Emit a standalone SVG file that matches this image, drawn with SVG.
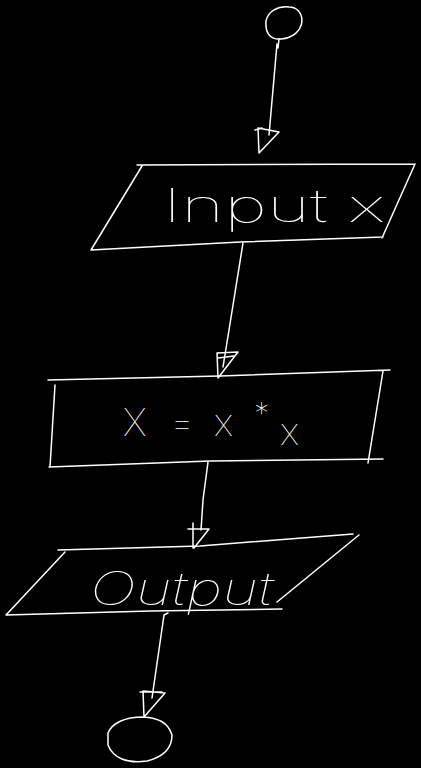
<svg xmlns="http://www.w3.org/2000/svg" width="421" height="768" viewBox="0 0 421 768">
<style>
.s{fill:none;stroke:#fff;stroke-width:1.5;stroke-linecap:round;stroke-linejoin:round}
.t{fill:#fff;font-family:Inter,"Liberation Sans",sans-serif;font-weight:100}
</style>
<rect width="421" height="768" fill="#000"/>
<g id="start">
<path class="s" d="M266,21 C268,11 278,6 289,7 C297,7 302,13 302,21 C301,31 293,38 281,39 C271,40 265,34 266,21 Z"/>
</g>
<g id="input">
<path class="s" d="M137,165 L415,164 M415,164 L382,238 M91,250 L240,242 L383,237 M91,250 L142,166"/>
<text class="t" x="163" y="222" font-size="46" textLength="222" lengthAdjust="spacingAndGlyphs">Input x</text>
</g>
<g id="process">
<path class="s" d="M48,380 L220,376 L390,370 M55,385 L50,467 M49,467 L210,461 L383,459 M383,371 L368,463"/>
<text class="t" x="123" y="436" font-size="38">X <tspan x="170">=</tspan><tspan x="214">x</tspan><tspan x="254" dy="-12" font-size="30">*</tspan><tspan x="280" dy="21">x</tspan></text>
</g>
<g id="output">
<path class="s" d="M58,550 L200,546 L353,534 M359,535 L277,602 M6,615 L150,611 L282,609 M6,615 L65,552"/>
<text class="t" x="90" y="605" font-size="46" font-style="italic" textLength="183" lengthAdjust="spacingAndGlyphs">Output</text>
</g>
<g id="end">
<path class="s" d="M108,733 C112,723 125,717 143,717 C158,718 168,722 172,735 C172,748 163,757 147,761 C127,764 113,758 108,745 Z"/>
</g>
<g id="connectors">
<path class="s" d="M279,39 L278,48 M277,44 L269,135"/>
<path class="s" d="M258,128 L279,132 L259,153 Z M255,130 L262,128"/>
<path class="s" d="M243,243 L229,330 L223,367"/>
<path class="s" d="M217,353 L238,352 L218,378 Z M217,353 L218,378 M218,358 L234,356"/>
<path class="s" d="M208,462 L203,500 L201,530"/>
<path class="s" d="M199,529 L209,529 L194,548 M193,523 L193,548 M188,529 L200,529"/>
<path class="s" d="M168,613 L164,615 L152,698"/>
<path class="s" d="M143,691 L165,693 L144,717 Z M140,692 L162,692"/>
</g>
</svg>
